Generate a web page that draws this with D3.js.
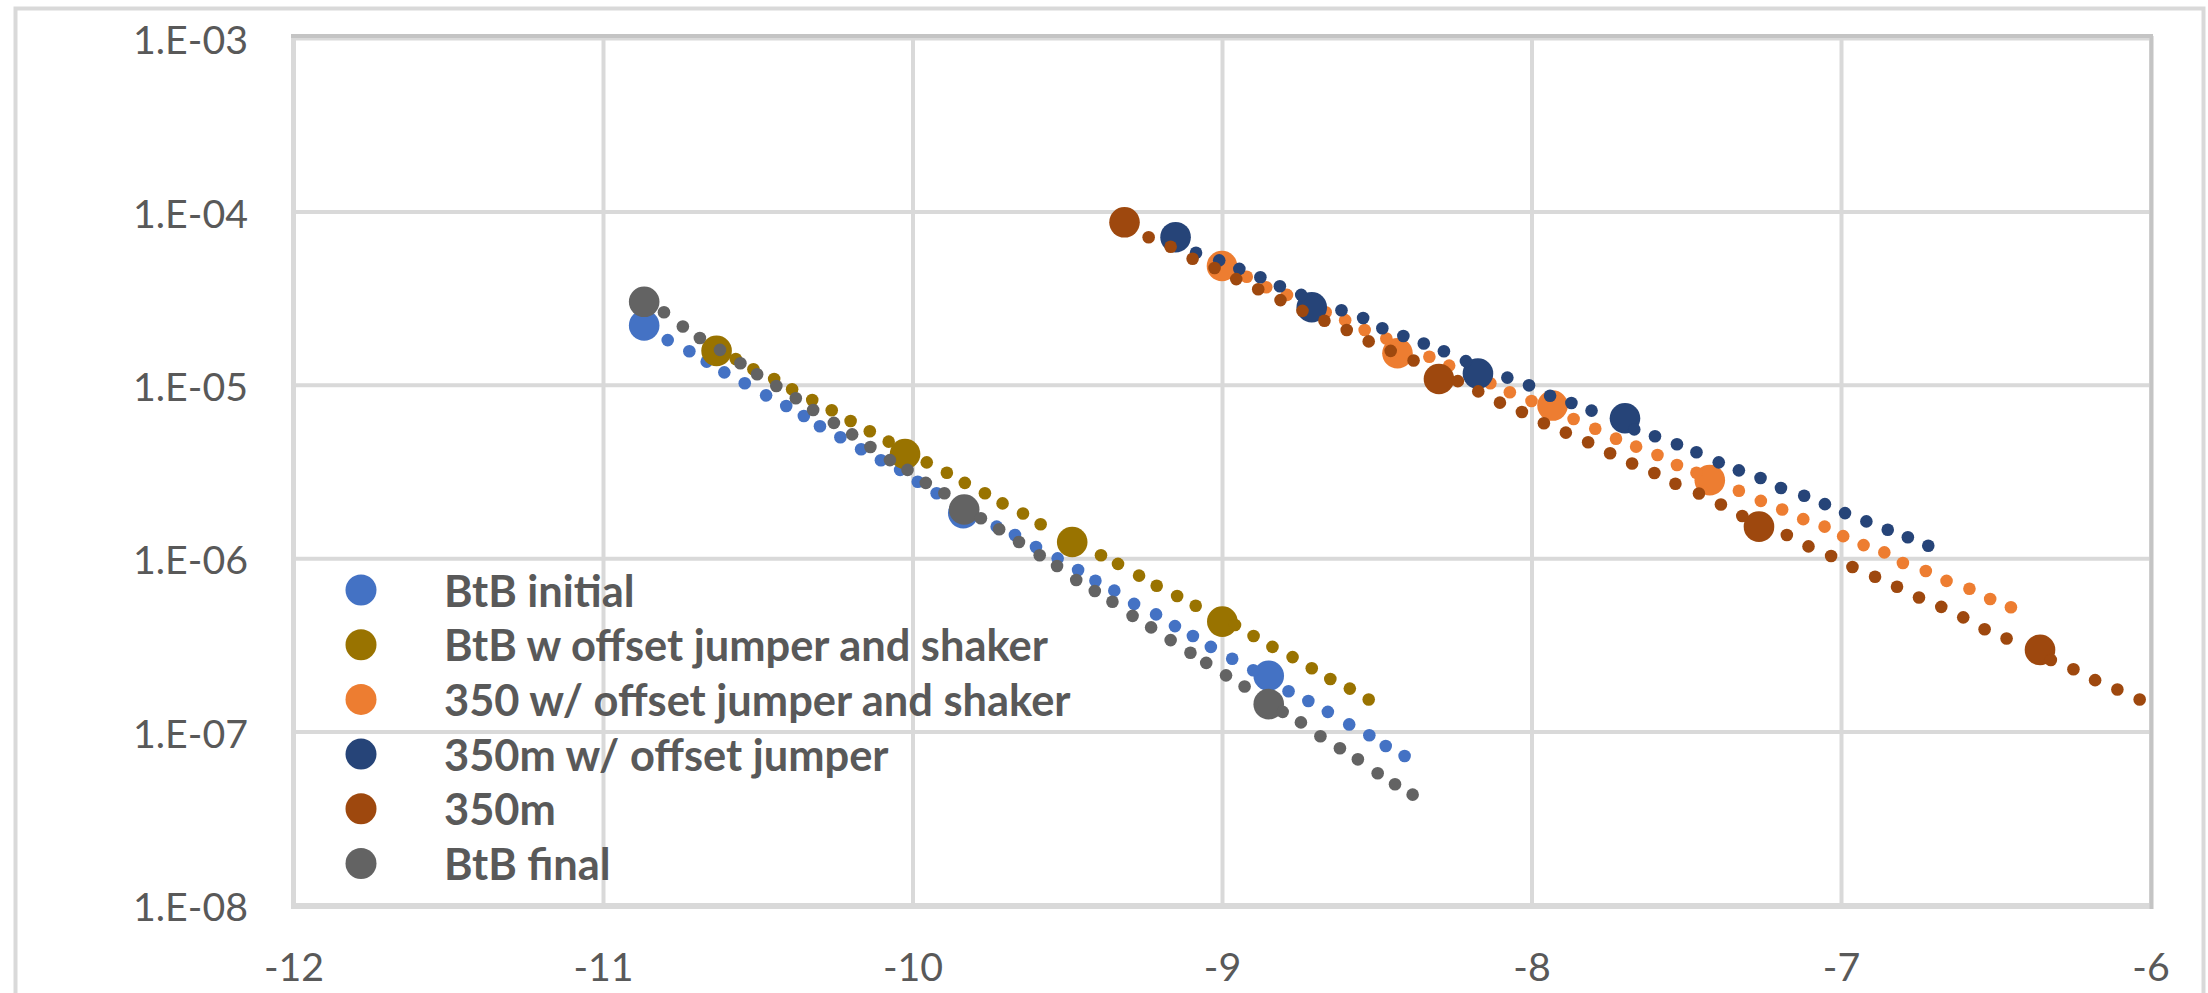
<!DOCTYPE html>
<html><head><meta charset="utf-8">
<script src="https://cdn.jsdelivr.net/npm/d3@7"></script>
<style>html,body{margin:0;padding:0;background:#fff;overflow:hidden}</style>
</head><body>
<svg id="chart" width="2208" height="993"></svg>
<script>
// ---------- data ----------
const seriesNames = ["BtB initial","BtB w offset jumper and shaker","350 w/ offset jumper and shaker","350m w/ offset jumper","350m","BtB final"];
const seriesColors = ["#4472C4","#997300","#ED7D31","#264478","#9E480E","#636363"];

const xTicks = [-12,-11,-10,-9,-8,-7,-6];
const xTickLabels = ["-12","-11","-10","-9","-8","-7","-6"];
const yTicks = [1e-8,1e-7,1e-6,1e-5,1e-4,1e-3];
const yTickLabels = ["1.E-08","1.E-07","1.E-06","1.E-05","1.E-04","1.E-03"];

// BtB initial
const btbInitialX = [-10.791,-10.721,-10.665,-10.608,-10.542,-10.473,-10.408,-10.351,-10.299,-10.233,-10.166,-10.102,-10.040,-9.983,-9.922,-9.728,-9.669,-9.601,-9.531,-9.465,-9.409,-9.348,-9.284,-9.213,-9.152,-9.094,-9.036,-8.967,-8.899,-8.785,-8.721,-8.658,-8.589,-8.524,-8.471,-8.410];
const btbInitialY = [1.81e-5,1.56e-5,1.36e-5,1.18e-5,1.02e-5,8.69e-6,7.55e-6,6.61e-6,5.77e-6,4.98e-6,4.25e-6,3.67e-6,3.23e-6,2.76e-6,2.37e-6,1.52e-6,1.36e-6,1.16e-6,9.98e-7,8.55e-7,7.41e-7,6.50e-7,5.45e-7,4.74e-7,4.06e-7,3.56e-7,3.08e-7,2.63e-7,2.26e-7,1.71e-7,1.50e-7,1.30e-7,1.10e-7,9.53e-8,8.26e-8,7.23e-8];
const btbInitialBigX = [-10.867,-9.836,-8.849];
const btbInitialBigY = [2.20e-5,1.82e-6,2.10e-7];

// BtB w offset jumper and shaker
const btbOffsetX = [-10.571,-10.514,-10.447,-10.389,-10.324,-10.261,-10.200,-10.138,-10.077,-9.954,-9.889,-9.831,-9.766,-9.709,-9.643,-9.586,-9.391,-9.336,-9.268,-9.211,-9.145,-9.085,-8.958,-8.898,-8.837,-8.772,-8.710,-8.650,-8.587,-8.526];
const btbOffsetY = [1.41e-5,1.23e-5,1.08e-5,9.42e-6,8.17e-6,7.13e-6,6.18e-6,5.40e-6,4.70e-6,3.57e-6,3.11e-6,2.72e-6,2.37e-6,2.07e-6,1.81e-6,1.57e-6,1.04e-6,9.27e-7,7.93e-7,6.93e-7,6.05e-7,5.32e-7,4.12e-7,3.56e-7,3.08e-7,2.69e-7,2.32e-7,2.01e-7,1.77e-7,1.53e-7];
const btbOffsetBigX = [-10.633,-10.024,-9.484,-8.999];
const btbOffsetBigY = [1.57e-5,3.99e-6,1.24e-6,4.31e-7];

// 350 w/ offset jumper and shaker
const f350OffsetX = [-8.920,-8.857,-8.790,-8.724,-8.665,-8.602,-8.539,-8.469,-8.330,-8.266,-8.197,-8.133,-8.070,-8.000,-7.864,-7.794,-7.727,-7.662,-7.593,-7.530,-7.467,-7.330,-7.259,-7.190,-7.122,-7.053,-6.993,-6.927,-6.860,-6.800,-6.726,-6.659,-6.585,-6.518,-6.451];
const f350OffsetY = [4.20e-5,3.65e-5,3.30e-5,2.97e-5,2.62e-5,2.36e-5,2.07e-5,1.85e-5,1.45e-5,1.29e-5,1.15e-5,1.02e-5,9.06e-6,8.07e-6,6.35e-6,5.58e-6,4.89e-6,4.40e-6,3.94e-6,3.45e-6,3.11e-6,2.45e-6,2.14e-6,1.91e-6,1.68e-6,1.52e-6,1.34e-6,1.19e-6,1.08e-6,9.38e-7,8.43e-7,7.40e-7,6.67e-7,5.82e-7,5.21e-7];
const f350OffsetBigX = [-9.000,-8.433,-7.932,-7.424];
const f350OffsetBigY = [4.84e-5,1.52e-5,7.59e-6,2.82e-6];

// 350m w/ offset jumper
const f350mOffsetX = [-9.084,-9.009,-8.944,-8.876,-8.813,-8.744,-8.614,-8.544,-8.482,-8.414,-8.348,-8.283,-8.212,-8.078,-8.008,-7.940,-7.871,-7.806,-7.668,-7.601,-7.530,-7.467,-7.395,-7.330,-7.260,-7.194,-7.119,-7.052,-6.987,-6.918,-6.849,-6.784,-6.718];
const f350mOffsetY = [5.78e-5,5.22e-5,4.66e-5,4.17e-5,3.70e-5,3.30e-5,2.69e-5,2.43e-5,2.12e-5,1.91e-5,1.73e-5,1.56e-5,1.37e-5,1.10e-5,9.93e-6,8.65e-6,7.85e-6,7.10e-6,5.53e-6,5.05e-6,4.54e-6,4.08e-6,3.57e-6,3.21e-6,2.90e-6,2.54e-6,2.29e-6,2.05e-6,1.82e-6,1.63e-6,1.46e-6,1.32e-6,1.18e-6];
const f350mOffsetBigX = [-9.150,-8.710,-8.173,-7.698];
const f350mOffsetBigY = [7.10e-5,2.80e-5,1.16e-5,6.41e-6];

// 350m
const f350mX = [-9.237,-9.166,-9.095,-9.024,-8.954,-8.883,-8.811,-8.740,-8.669,-8.597,-8.526,-8.455,-8.381,-8.238,-8.172,-8.102,-8.031,-7.960,-7.889,-7.817,-7.746,-7.675,-7.603,-7.535,-7.459,-7.388,-7.319,-7.175,-7.105,-7.032,-6.963,-6.890,-6.819,-6.748,-6.676,-6.605,-6.536,-6.465,-6.322,-6.249,-6.179,-6.107,-6.035];
const f350mY = [7.10e-5,6.25e-5,5.33e-5,4.72e-5,4.07e-5,3.56e-5,3.08e-5,2.67e-5,2.34e-5,2.07e-5,1.78e-5,1.57e-5,1.38e-5,1.05e-5,9.16e-6,7.89e-6,6.97e-6,6.00e-6,5.30e-6,4.66e-6,4.03e-6,3.52e-6,3.10e-6,2.69e-6,2.36e-6,2.04e-6,1.75e-6,1.36e-6,1.17e-6,1.03e-6,8.89e-7,7.82e-7,6.85e-7,5.94e-7,5.24e-7,4.56e-7,3.89e-7,3.44e-7,2.59e-7,2.29e-7,1.98e-7,1.75e-7,1.53e-7];
const f350mBigX = [-9.315,-8.299,-7.265,-6.357];
const f350mBigY = [8.65e-5,1.08e-5,1.52e-6,2.96e-7];

// BtB final
const btbFinalX = [-10.803,-10.742,-10.687,-10.622,-10.556,-10.502,-10.440,-10.377,-10.321,-10.254,-10.195,-10.136,-10.073,-10.016,-9.957,-9.897,-9.779,-9.720,-9.656,-9.589,-9.533,-9.471,-9.411,-9.354,-9.289,-9.229,-9.166,-9.102,-9.051,-8.987,-8.927,-8.804,-8.745,-8.682,-8.619,-8.561,-8.497,-8.441,-8.384];
const btbFinalY = [2.62e-5,2.17e-5,1.86e-5,1.59e-5,1.33e-5,1.15e-5,9.84e-6,8.36e-6,7.16e-6,6.03e-6,5.18e-6,4.38e-6,3.68e-6,3.23e-6,2.72e-6,2.37e-6,1.70e-6,1.47e-6,1.24e-6,1.04e-6,9.02e-7,7.48e-7,6.47e-7,5.61e-7,4.65e-7,3.99e-7,3.37e-7,2.85e-7,2.49e-7,2.11e-7,1.82e-7,1.30e-7,1.13e-7,9.40e-8,8.02e-8,6.92e-8,5.75e-8,4.97e-8,4.33e-8];
const btbFinalBigX = [-10.867,-9.833,-8.849];
const btbFinalBigY = [3.01e-5,1.91e-6,1.44e-7];

const smallX = [btbInitialX, btbOffsetX, f350OffsetX, f350mOffsetX, f350mX, btbFinalX];
const smallY = [btbInitialY, btbOffsetY, f350OffsetY, f350mOffsetY, f350mY, btbFinalY];
const bigX = [btbInitialBigX, btbOffsetBigX, f350OffsetBigX, f350mOffsetBigX, f350mBigX, btbFinalBigX];
const bigY = [btbInitialBigY, btbOffsetBigY, f350OffsetBigY, f350mOffsetBigY, f350mBigY, btbFinalBigY];

// ---------- layout ----------
const L = 293.5, R = 2150.5, T = 38, B = 905;
const FONT = "Lato, 'Open Sans', sans-serif";
const TEXT = "#595959";
const GRID = "#d9d9d9";

const svg = d3.select("#chart");
svg.append("rect").attr("width",2208).attr("height",993).attr("fill","#fff");

// size a font so that a sample string gets the reference width
function fitSize(str, weight, targetW){
  const base = 40;
  const t = svg.append("text").attr("font-family",FONT).attr("font-weight",weight)
    .attr("font-size",base).text(str);
  const w = t.node().getComputedTextLength();
  t.remove();
  return w > 0 ? base*targetW/w : base;
}
const tickSize = Math.min(fitSize("1.E-08","normal",115), 44);
const legSize = Math.min(fitSize("BtB w offset jumper and shaker","bold",604), 46);

// outer chart border
svg.append("rect").attr("x",15.5).attr("y",8.5).attr("width",2188).attr("height",1010)
  .attr("fill","none").attr("stroke","#d9d9d9").attr("stroke-width",4);

const x = d3.scaleLinear().domain([xTicks[0], xTicks[xTicks.length-1]]).range([L, R]);
const y = d3.scaleLog().domain([yTicks[0], yTicks[yTicks.length-1]]).range([B, T]);

// gridlines
svg.append("g").attr("transform",`translate(0,${B})`)
  .call(d3.axisBottom(x).tickValues(xTicks).tickSize(-(B-T)).tickFormat(""))
  .call(g=>g.select(".domain").remove())
  .call(g=>g.selectAll("line").attr("stroke",GRID).attr("stroke-width",4));
svg.append("g").attr("transform",`translate(${L},0)`)
  .call(d3.axisLeft(y).tickValues(yTicks).tickSize(-(R-L)).tickFormat(""))
  .call(g=>g.select(".domain").remove())
  .call(g=>g.selectAll("line").attr("stroke",GRID).attr("stroke-width",4));

// plot area border
svg.append("line").attr("x1",L).attr("x2",L).attr("y1",T).attr("y2",B+2.5).attr("stroke","#d9d9d9").attr("stroke-width",5);
svg.append("line").attr("x1",L-2.5).attr("x2",R).attr("y1",B+1).attr("y2",B+1).attr("stroke","#d9d9d9").attr("stroke-width",6);
svg.append("line").attr("x1",L-2.5).attr("x2",R+2.5).attr("y1",T-2).attr("y2",T-2).attr("stroke","#c4c4c4").attr("stroke-width",4);
svg.append("line").attr("x1",R+1).attr("x2",R+1).attr("y1",T-2).attr("y2",B+4).attr("stroke","#c4c4c4").attr("stroke-width",4);

// axis labels
const capT = 0.72*tickSize;
const yAxis = svg.append("g").attr("transform",`translate(${L},0)`)
  .call(d3.axisLeft(y).tickValues(yTicks).tickSize(0).tickPadding(45.5)
    .tickFormat((d,i)=>yTickLabels[i]));
yAxis.select(".domain").remove();
yAxis.selectAll("text").attr("font-family",FONT).attr("font-size",tickSize).attr("fill",TEXT)
  .attr("dy",null).attr("y",capT/2+1.5);

const xAxis = svg.append("g").attr("transform",`translate(0,${B})`)
  .call(d3.axisBottom(x).tickValues(xTicks).tickSize(0)
    .tickFormat((d,i)=>xTickLabels[i]));
xAxis.select(".domain").remove();
xAxis.selectAll("text").attr("font-family",FONT).attr("font-size",tickSize).attr("fill",TEXT)
  .attr("dy",null).attr("y",(967-B)+capT/2);

// series
const RS = 6.3, RB = 15.3;
seriesNames.forEach((name,i)=>{
  const g = svg.append("g").attr("class","series");
  g.selectAll("circle.big").data(d3.range(bigX[i].length)).join("circle")
    .attr("class","big")
    .attr("cx",j=>x(bigX[i][j])).attr("cy",j=>y(bigY[i][j])).attr("r",RB)
    .attr("fill",seriesColors[i]);
  g.selectAll("circle.small").data(d3.range(smallX[i].length)).join("circle")
    .attr("class","small")
    .attr("cx",j=>x(smallX[i][j])).attr("cy",j=>y(smallY[i][j])).attr("r",RS)
    .attr("fill",seriesColors[i]);
});

// legend
const legY0 = 590, legDy = 54.7;
const leg = svg.append("g");
seriesNames.forEach((name,i)=>{
  const cy = legY0 + i*legDy;
  leg.append("circle").attr("cx",361).attr("cy",cy).attr("r",15.5).attr("fill",seriesColors[i]);
  leg.append("text").attr("x",444).attr("y",cy+0.72*legSize/2+1).text(name)
    .attr("font-family",FONT).attr("font-weight","bold").attr("font-size",legSize).attr("fill",TEXT);
});
</script>
</body></html>
